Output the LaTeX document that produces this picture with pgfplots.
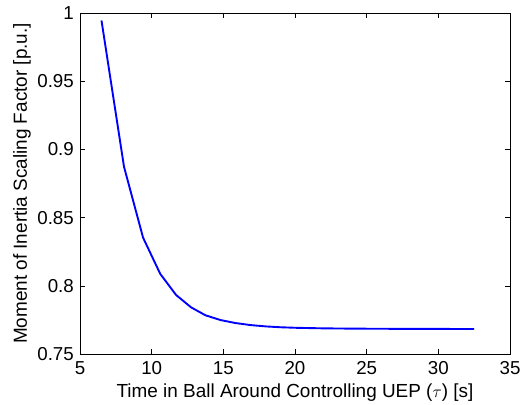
\documentclass[border=0pt]{standalone}
\usepackage{pgfplots}
\pgfplotsset{compat=1.18}
\usepackage{fontspec}
\setmainfont{Liberation Sans}
\begin{document}
\begin{tikzpicture}
\begin{axis}[
  at={(0,0)}, anchor=south west,
  scale only axis, width=430bp, height=341bp,
  xmin=5, xmax=35, ymin=0.75, ymax=1,
  xtick={5,10,...,35}, ytick={0.75,0.8,0.85,0.9,0.95,1},
  yticklabels={0.75,0.8,0.85,0.9,0.95,1},
  xticklabels={5,10,15,20,25,30,35},
  tick align=inside, major tick length=5bp,
  tick style={black, line width=0.5pt},
  axis line style={black, line width=0.6pt},
  ticklabel style={font=\fontsize{18.8}{22}\selectfont},
  label style={font=\fontsize{19}{22}\selectfont},
  xlabel={Time in Ball Around Controlling UEP ($\tau$) [s]},
  ylabel={Moment of Inertia Scaling Factor [p.u.]},
  xlabel style={at={(axis description cs:0.5,-0.1261)}, anchor=base, text height=14bp},
  ylabel style={at={(axis description cs:-0.1233,0.5)}, anchor=base},
  xticklabel style={inner sep=0pt, anchor=north, yshift=-7bp, text height=13.6bp, text depth=0pt},
  yticklabel style={inner sep=0pt, anchor=east, xshift=-6bp},
]
\addplot[blue, line width=1.9pt] coordinates {
(6.5,0.9945) (8.07,0.8873) (9.4,0.8353) (10.6,0.8087) (11.7,0.7933)
(12.75,0.7842) (13.75,0.7784) (14.8,0.7749) (15.85,0.7727) (16.9,0.7712)
(18.0,0.7702) (19.0,0.7696) (20.1,0.7692) (22,0.7688) (24,0.7686)
(26,0.7685) (28,0.7684) (30,0.7684) (32.5,0.7683)
};
\end{axis}
\pgfresetboundingbox
\path[use as bounding box] (-80bp,-51bp) rectangle (448bp,354bp);
\end{tikzpicture}
\end{document}
